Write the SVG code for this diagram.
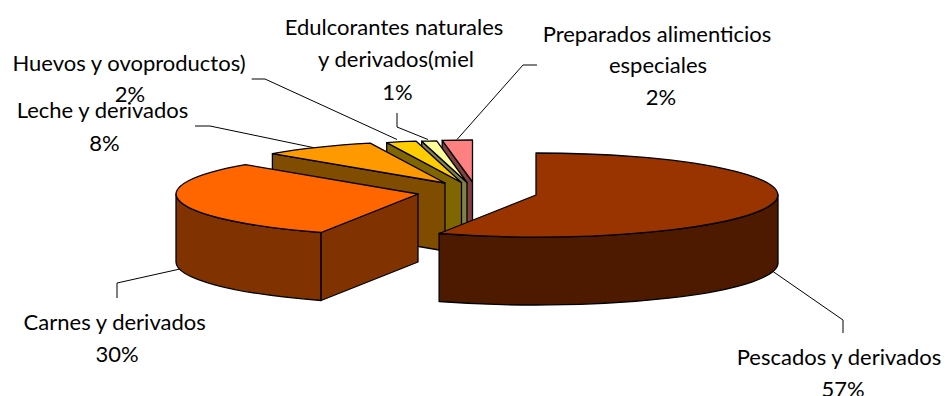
<svg xmlns="http://www.w3.org/2000/svg" width="945" height="396" viewBox="0 0 945 396">
<style>
.s{stroke:#000;stroke-width:1.3;stroke-linejoin:round}
.ld{fill:none;stroke:#000;stroke-width:1}
text{font-family:Lato,"Liberation Sans",sans-serif;font-size:22px;fill:#000;text-anchor:middle}
</style>
<rect width="945" height="396" fill="#fff"/>
<g id="slice-preparados">
<path class="s" fill="#804040" d="M472.5,182 L442.2,140.3 L442.2,208.3 L472.5,250 Z"/>
<path class="s" fill="#FF8080" d="M472.5,182 L442.2,140.3 A242,42 0 0 1 472.5,140 Z"/>
</g>
<g id="slice-edulcorantes">
<path class="s" fill="#80804C" d="M467,182.5 L421.7,141.2 L421.7,209.2 L467,250.5 Z"/>
<path class="s" fill="#FFFF99" d="M467,182.5 L421.7,141.2 A242,42 0 0 1 436.7,140.8 Z"/>
</g>
<g id="slice-huevos">
<path class="s" fill="#806600" d="M461.5,182.5 L386.7,142.6 L386.7,210.6 L461.5,250.5 Z"/>
<path class="s" fill="#FFCC00" d="M461.5,182.5 L386.7,142.6 A242,42 0 0 1 416.2,141.2 Z"/>
</g>
<g id="slice-leche">
<path class="s" fill="#804C00" d="M445,183 L272.4,153.6 L272.4,221.6 L445,251 Z"/>
<path class="s" fill="#FF9900" d="M445,183 L272.4,153.6 A242,42 0 0 1 370.2,143.1 Z"/>
</g>
<g id="slice-carnes">
<path class="s" fill="#803300" d="M321.1,232.5 A242,42 0 0 1 176,194 L176,262 A242,42 0 0 0 321.1,300.5 Z"/>
<path class="s" fill="#803300" d="M418,194 L321.1,232.5 L321.1,300.5 L418,262 Z"/>
<path class="s" fill="#FF6600" d="M418,194 L321.1,232.5 A242,42 0 0 1 245.4,164.6 Z"/>
</g>
<g id="slice-pescados">
<path class="s" fill="#4D1A00" d="M778,195 A242,42 0 0 1 439.1,233.5 L439.1,301.5 A242,42 0 0 0 778,263 Z"/>
<path class="s" fill="#993300" d="M536,195 L536,153 A242,42 0 1 1 439.1,233.5 Z"/>
</g>
<g id="connectors">
<path class="ld" d="M251.7,79 L265,79 L397,139.5"/>
<path class="ld" d="M397,113 L397,127 L428,139.5"/>
<path class="ld" d="M537,65 L523,65 L457,139.5"/>
<path class="ld" d="M195,126 L210,126 L313,147.5"/>
<path class="ld" d="M117,298 L117,283 L180,269"/>
<path class="ld" d="M843,333 L843,320 L773,271.5"/>
</g>
<g id="labels">
<text x="394" y="35">Edulcorantes naturales</text>
<text x="396" y="66.5">y derivados(miel</text>
<text x="397.5" y="100">1%</text>
<text x="657" y="41.5">Preparados alimenticios</text>
<text x="658" y="73">especiales</text>
<text x="661" y="105">2%</text>
<text x="129" y="70.5">Huevos y ovoproductos)</text>
<text x="130" y="101.5">2%</text>
<text x="102.5" y="118">Leche y derivados</text>
<text x="104.5" y="150.5">8%</text>
<text x="114.7" y="330">Carnes y derivados</text>
<text x="117" y="361.5">30%</text>
<text x="839" y="365">Pescados y derivados</text>
<text x="843" y="397">57%</text>
</g>
</svg>
